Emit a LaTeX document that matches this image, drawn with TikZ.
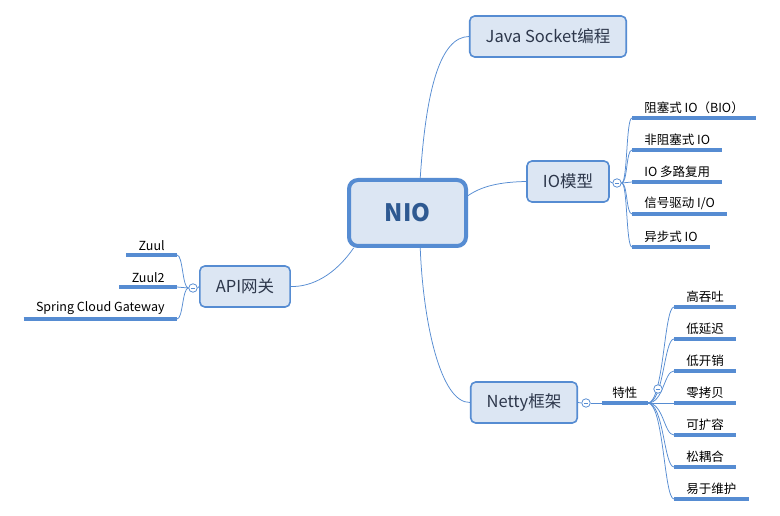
\documentclass[tikz,border=0pt]{standalone}
\usepackage{fontspec}
\setmainfont{Noto Sans CJK SC}
\usepackage{tikz}
\definecolor{mindblue}{RGB}{86,140,210}
\definecolor{mindfill}{RGB}{220,230,243}
\definecolor{topictext}{RGB}{45,55,75}
\definecolor{niotext}{RGB}{46,89,145}
\tikzset{every picture/.style={line width=0.75pt}}
\tikzset{
  topic/.style={draw=mindblue, fill=mindfill, line width=1.6pt, rounded corners=5pt,
    minimum height=41pt, inner xsep=16pt, text=topictext, font=\fontsize{16.5}{19}\selectfont},
  central/.style={draw=mindblue, fill=mindfill, line width=4pt, rounded corners=9pt,
    minimum width=117pt, minimum height=66pt, text=niotext, font=\fontsize{24}{28}\selectfont\bfseries},
  leaf/.style={inner xsep=12pt, inner ysep=4pt, font=\fontsize{12.5}{15}\selectfont},
  leafline/.style={draw=mindblue, line width=3.2pt},
  conn/.style={draw=mindblue, line width=0.75pt},
  fold/.style={circle, draw=mindblue, fill=white, line width=0.75pt, inner sep=0pt, minimum size=8.5pt,
    path picture={\draw[mindblue, line width=0.6pt]
      ([xshift=-2.2pt]path picture bounding box.center) -- ([xshift=2.2pt]path picture bounding box.center);}}
}

\begin{document}
\begin{tikzpicture}[x=1pt,y=1pt,yscale=-1,xscale=1]
%set diagram at 780 x 516
\path[use as bounding box, fill=white] (0,0) rectangle (780,516);

%Topics
\node[central] (nio) at (407.5,213) {NIO};
\node[topic] (java) at (548,36.5) {Java Socket编程};
\node[topic] (iomodel) at (568,181.5) {IO模型};
\node[topic] (netty) at (524,402.5) {Netty框架};
\node[topic] (api) at (245,286.5) {API网关};

%Main branches
\draw[conn] (nio.70) .. controls (426,90) and (440,37) .. (java.west);
\draw[conn] (nio.16) .. controls (482,186) and (500,182) .. (iomodel.west);
\draw[conn] (nio.-70) .. controls (423,320) and (440,403) .. (netty.west);
\draw[conn] (nio.213) .. controls (335,275) and (312,287) .. (api.east);

%IO model
\node[fold] (iofold) at (617,183) {};
\draw[conn] (iomodel.east) -- (iofold.west);
\node[leaf, anchor=south west] (io1) at (632,118) {阻塞式 IO（BIO）};
\node[leaf, anchor=south west] (io2) at (632,150) {非阻塞式 IO};
\node[leaf, anchor=south west] (io3) at (632,182) {IO 多路复用};
\node[leaf, anchor=south west] (io4) at (632,214) {信号驱动 I/O};
\node[leaf, anchor=south west] (io5) at (632,247) {异步式 IO};
\draw[leafline] (io1.south west) -- (io1.south east);
\draw[leafline] (io2.south west) -- (io2.south east);
\draw[leafline] (io3.south west) -- (io3.south east);
\draw[leafline] (io4.south west) -- (io4.south east);
\draw[leafline] (io5.south west) -- (io5.south east);
\draw[conn] (iofold.east) .. controls +(6,0) and +(-6,0) .. (io1.south west);
\draw[conn] (iofold.east) .. controls +(6,0) and +(-6,0) .. (io2.south west);
\draw[conn] (iofold.east) -- (io3.south west);
\draw[conn] (iofold.east) .. controls +(6,0) and +(-6,0) .. (io4.south west);
\draw[conn] (iofold.east) .. controls +(6,0) and +(-6,0) .. (io5.south west);

%Netty
\node[fold] (nettyfold) at (586,403) {};
\draw[conn] (netty.east) -- (nettyfold.west);
\node[leaf, anchor=south west, inner xsep=10pt] (feat) at (602,403) {特性};
\draw[leafline] (feat.south west) -- (feat.south east);
\draw[conn] (nettyfold.east) -- (feat.south west);
\node[leaf, anchor=south west] (ft1) at (674,307) {高吞吐};
\node[leaf, anchor=south west] (ft2) at (674,339) {低延迟};
\node[leaf, anchor=south west] (ft3) at (674,371) {低开销};
\node[leaf, anchor=south west] (ft4) at (674,403) {零拷贝};
\node[leaf, anchor=south west] (ft5) at (674,435) {可扩容};
\node[leaf, anchor=south west] (ft6) at (674,467) {松耦合};
\node[leaf, anchor=south west] (ft7) at (674,499) {易于维护};
\draw[leafline] (ft1.south west) -- (ft1.south east);
\draw[leafline] (ft2.south west) -- (ft2.south east);
\draw[leafline] (ft3.south west) -- (ft3.south east);
\draw[leafline] (ft4.south west) -- (ft4.south east);
\draw[leafline] (ft5.south west) -- (ft5.south east);
\draw[leafline] (ft6.south west) -- (ft6.south east);
\draw[leafline] (ft7.south west) -- (ft7.south east);
\draw[conn] (feat.south east) .. controls +(16,0) and +(-10,0) .. (ft1.south west);
\draw[conn] (feat.south east) .. controls +(16,0) and +(-10,0) .. (ft2.south west);
\draw[conn] (feat.south east) .. controls +(16,0) and +(-10,0) .. (ft3.south west);
\draw[conn] (feat.south east) -- (ft4.south west);
\draw[conn] (feat.south east) .. controls +(16,0) and +(-10,0) .. (ft5.south west);
\draw[conn] (feat.south east) .. controls +(16,0) and +(-10,0) .. (ft6.south west);
\draw[conn] (feat.south east) .. controls +(16,0) and +(-10,0) .. (ft7.south west);
\node[fold] (featfold) at (658,389) {};

%API gateway
\node[fold] (apifold) at (193,288) {};
\draw[conn] (api.west) -- (apifold.east);
\node[leaf, anchor=south east] (gw1) at (177,255) {Zuul};
\node[leaf, anchor=south east] (gw2) at (177,287) {Zuul2};
\node[leaf, anchor=south east] (gw3) at (177,319) {Spring Cloud Gateway};
\draw[leafline] (gw1.south west) -- (gw1.south east);
\draw[leafline] (gw2.south west) -- (gw2.south east);
\draw[leafline] (gw3.south west) -- (gw3.south east);
\draw[conn] (apifold.west) .. controls +(-6,0) and +(6,0) .. (gw1.south east);
\draw[conn] (apifold.west) -- (gw2.south east);
\draw[conn] (apifold.west) .. controls +(-6,0) and +(6,0) .. (gw3.south east);

\end{tikzpicture}
\end{document}
